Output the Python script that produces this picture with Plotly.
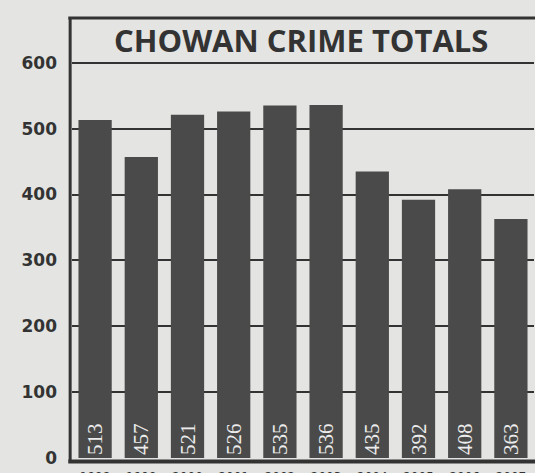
import plotly.graph_objects as go

years = ["1998", "1999", "2000", "2001", "2002", "2003", "2004", "2005", "2006", "2007"]
totals = [513, 457, 521, 526, 535, 536, 435, 392, 408, 363]
y_ticks = [0, 100, 200, 300, 400, 500, 600]
title_text = "CHOWAN CRIME TOTALS"

BG = "#e4e4e2"
INK = "#333333"
BAR = "#4a4a4a"

fig = go.Figure()
fig.add_trace(go.Bar(
    x=years, y=totals,
    marker=dict(color=BAR, line=dict(width=0)),
    text=[str(v) for v in totals],
    textposition="inside",
    insidetextanchor="start",
    textangle=-90,
    textfont=dict(family="Liberation Serif", size=21, color="#ececec"),
    constraintext="none",
    cliponaxis=False,
))

fig.update_layout(
    width=535, height=473,
    margin=dict(l=72, r=1, t=18, b=15),
    paper_bgcolor=BG, plot_bgcolor=BG,
    bargap=0.28,
    showlegend=False,
    xaxis=dict(
        type="category",
        showgrid=False, zeroline=False, showline=False,
        automargin=False,
        ticks="", tickfont=dict(family="DejaVu Sans", size=12, color=INK),
        ticklabelstandoff=10,
    ),
    yaxis=dict(
        range=[0, 668],
        automargin=False,
        tickvals=y_ticks,
        ticktext=[str(v) for v in y_ticks],
        showgrid=True, gridcolor=INK, gridwidth=2,
        zeroline=False, showline=False,
        ticks="",
        tickfont=dict(family="DejaVu Sans", size=17, color=INK, weight="bold"),
        ticklabelstandoff=14,
    ),
    shapes=[
        dict(type="line", xref="paper", yref="paper", x0=-0.004, x1=-0.004, y0=-0.01, y1=1,
             line=dict(color=INK, width=3), layer="above"),
        dict(type="line", xref="paper", yref="paper", x0=-0.008, x1=1.01, y0=1, y1=1,
             line=dict(color=INK, width=3), layer="above"),
        dict(type="line", xref="paper", yref="paper", x0=-0.008, x1=1.01, y0=-0.008, y1=-0.008,
             line=dict(color=INK, width=4), layer="above"),
    ],
    annotations=[
        dict(text=title_text, xref="paper", yref="y", x=0.495, y=634,
             showarrow=False, xanchor="center", yanchor="middle",
             font=dict(family="Open Sans", size=31, color=INK, weight="bold")),
    ],
)

fig.write_html("out.html")
